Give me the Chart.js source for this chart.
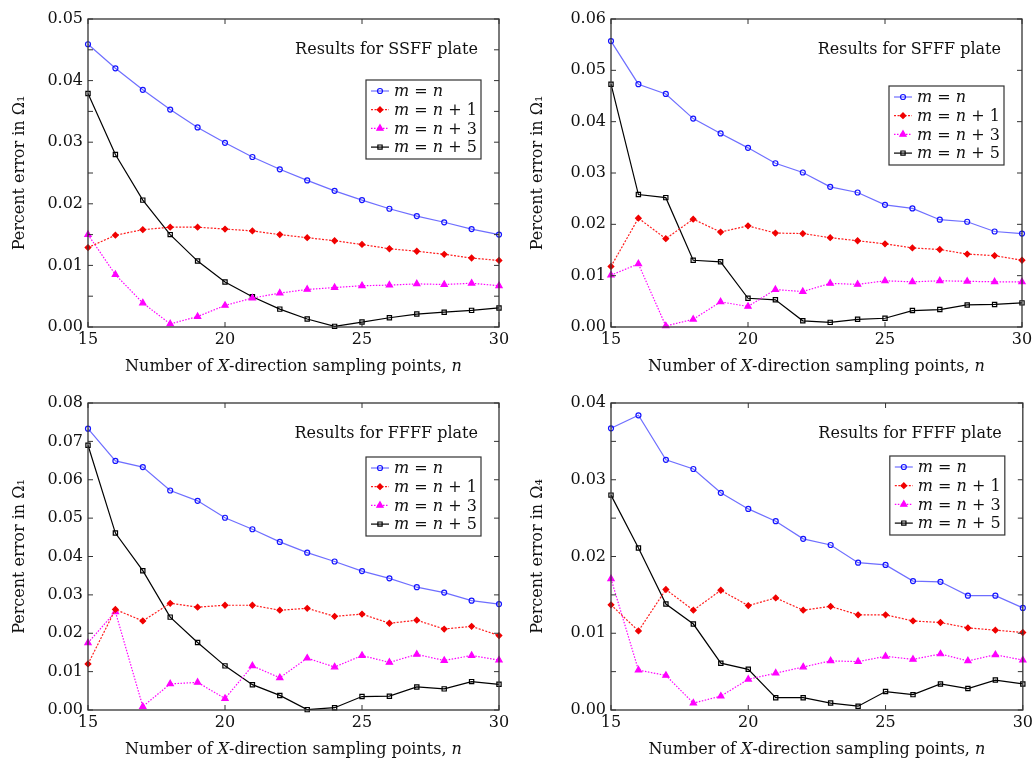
<!DOCTYPE html>
<html>
<head>
<meta charset="utf-8">
<script src="https://cdn.jsdelivr.net/npm/chart.js@4.4.1/dist/chart.umd.min.js"></script>
<style>
  body { margin: 0; background: #fff; }
  #wrap { position: relative; width: 1036px; height: 762px; }
  canvas { position: absolute; }
</style>
</head>
<body>
<div id="wrap">
  <canvas id="c1" width="518" height="381" style="left:0;top:0"></canvas>
  <canvas id="c2" width="518" height="381" style="left:518px;top:0"></canvas>
  <canvas id="c3" width="518" height="381" style="left:0;top:381px"></canvas>
  <canvas id="c4" width="518" height="381" style="left:518px;top:381px"></canvas>
</div>
<script>
const nValues = [15, 16, 17, 18, 19, 20, 21, 22, 23, 24, 25, 26, 27, 28, 29, 30];
const seriesNames = ['m = n', 'm = n + 1', 'm = n + 3', 'm = n + 5'];

// SSFF plate, error in Omega_1
const ssffN  = [0.0459, 0.0420, 0.0385, 0.0353, 0.0324, 0.0299, 0.0276, 0.0256, 0.0238, 0.0221, 0.0206, 0.0192, 0.0180, 0.0170, 0.0159, 0.0150];
const ssffN1 = [0.0129, 0.0149, 0.0158, 0.0162, 0.0162, 0.0159, 0.0156, 0.0150, 0.0145, 0.0140, 0.0134, 0.0127, 0.0123, 0.0118, 0.0112, 0.0108];
const ssffN3 = [0.0150, 0.0085, 0.0039, 0.0005, 0.0017, 0.0035, 0.0047, 0.0055, 0.0061, 0.0064, 0.0067, 0.0068, 0.0070, 0.0069, 0.0071, 0.0067];
const ssffN5 = [0.0379, 0.0280, 0.0206, 0.0150, 0.0107, 0.0073, 0.0049, 0.0029, 0.0013, 0.0001, 0.0008, 0.0015, 0.0021, 0.0024, 0.0027, 0.0031];

// SFFF plate, error in Omega_1
const sfffN  = [0.0557, 0.0473, 0.0454, 0.0406, 0.0377, 0.0349, 0.0319, 0.0301, 0.0273, 0.0262, 0.0238, 0.0231, 0.0209, 0.0205, 0.0186, 0.0182];
const sfffN1 = [0.0118, 0.0212, 0.0172, 0.0210, 0.0185, 0.0197, 0.0183, 0.0182, 0.0174, 0.0168, 0.0162, 0.0154, 0.0151, 0.0142, 0.0139, 0.0130];
const sfffN3 = [0.0101, 0.0123, 0.0002, 0.0015, 0.0049, 0.0040, 0.0073, 0.0069, 0.0085, 0.0083, 0.0090, 0.0088, 0.0090, 0.0089, 0.0088, 0.0088];
const sfffN5 = [0.0473, 0.0258, 0.0252, 0.0130, 0.0127, 0.0056, 0.0053, 0.0012, 0.0009, 0.0015, 0.0017, 0.0032, 0.0034, 0.0043, 0.0044, 0.0047];

// FFFF plate, error in Omega_1
const ffff1N  = [0.0733, 0.0649, 0.0633, 0.0572, 0.0545, 0.0501, 0.0471, 0.0438, 0.0410, 0.0387, 0.0362, 0.0343, 0.0320, 0.0306, 0.0285, 0.0276];
const ffff1N1 = [0.0120, 0.0262, 0.0232, 0.0278, 0.0268, 0.0273, 0.0273, 0.0260, 0.0265, 0.0244, 0.0250, 0.0226, 0.0234, 0.0211, 0.0218, 0.0194];
const ffff1N3 = [0.0175, 0.0256, 0.0009, 0.0068, 0.0072, 0.0030, 0.0115, 0.0084, 0.0135, 0.0112, 0.0142, 0.0124, 0.0145, 0.0129, 0.0142, 0.0130];
const ffff1N5 = [0.0690, 0.0461, 0.0363, 0.0242, 0.0176, 0.0115, 0.0066, 0.0038, 0.0001, 0.0006, 0.0035, 0.0036, 0.0060, 0.0055, 0.0074, 0.0067];

// FFFF plate, error in Omega_4
const ffff4N  = [0.0367, 0.0384, 0.0326, 0.0314, 0.0283, 0.0262, 0.0246, 0.0223, 0.0215, 0.0192, 0.0189, 0.0168, 0.0167, 0.0149, 0.0149, 0.0133];
const ffff4N1 = [0.0137, 0.0103, 0.0157, 0.0130, 0.0156, 0.0136, 0.0146, 0.0130, 0.0135, 0.0124, 0.0124, 0.0116, 0.0114, 0.0107, 0.0104, 0.0101];
const ffff4N3 = [0.0171, 0.0052, 0.0045, 0.0009, 0.0018, 0.0040, 0.0048, 0.0056, 0.0064, 0.0063, 0.0070, 0.0066, 0.0073, 0.0064, 0.0072, 0.0065];
const ffff4N5 = [0.0280, 0.0211, 0.0138, 0.0112, 0.0061, 0.0053, 0.0016, 0.0016, 0.0009, 0.0005, 0.0024, 0.0020, 0.0034, 0.0028, 0.0039, 0.0034];

// x title pieces: [text, italic]
const xTitleParts = [['Number of ', false], ['X', true], ['-direction sampling points, ', false], ['n', true]];
const serif = 'DejaVu Serif';

// line/marker look of the four series
const seriesStyle = [
  { line: 'rgb(110,110,255)', point: 'rgb(20,20,255)', fill: 'rgba(255,255,255,0)', shape: 'circle', r: 2.5, dash: [] },
  { line: 'rgb(255,30,30)', point: 'rgb(240,0,0)', fill: 'rgb(240,0,0)', shape: 'rectRot', r: 2.8, dash: [2, 1.5] },
  { line: 'rgb(255,0,255)', point: 'rgb(255,0,255)', fill: 'rgb(255,0,255)', shape: 'triangle', r: 3.6, dash: [1.5, 1.5] },
  { line: 'rgb(0,0,0)', point: 'rgb(0,0,0)', fill: 'rgba(255,255,255,0)', shape: 'rect', r: 3, dash: [] }
];

function fontFor(italic) {
  return (italic ? 'italic ' : '') + '16px "' + serif + '"';
}

function drawMath(ctx, str, x, y) {
  // letters italic, the rest upright, like the TeX legend
  for (const ch of str) {
    ctx.font = fontFor(/[a-z]/i.test(ch));
    ctx.fillText(ch, x, y);
    x += ctx.measureText(ch).width;
  }
}

const framePlugin = {
  id: 'frame',
  afterDraw(chart) {
    const ctx = chart.ctx;
    const a = chart.chartArea;
    const o = chart.options.plugins.frame;
    ctx.save();
    ctx.strokeStyle = '#333';
    ctx.lineWidth = 1.3;
    ctx.strokeRect(a.left, a.top, a.right - a.left, a.bottom - a.top);
    // inward tick marks on all four sides
    ctx.lineWidth = 1;
    chart.scales.y.ticks.forEach(t => {
      const p = chart.scales.y.getPixelForValue(t.value);
      ctx.beginPath();
      ctx.moveTo(a.left, p); ctx.lineTo(a.left + 5, p);
      ctx.moveTo(a.right, p); ctx.lineTo(a.right - 5, p);
      ctx.stroke();
    });
    chart.scales.x.ticks.forEach(t => {
      const p = chart.scales.x.getPixelForValue(t.value);
      ctx.beginPath();
      ctx.moveTo(p, a.top); ctx.lineTo(p, a.top + 5);
      ctx.moveTo(p, a.bottom); ctx.lineTo(p, a.bottom - 5);
      ctx.stroke();
    });
    ctx.fillStyle = '#111';
    ctx.textBaseline = 'middle';
    // x axis title with italic X and n
    let total = 0;
    xTitleParts.forEach(([txt, it]) => { ctx.font = fontFor(it); total += ctx.measureText(txt).width; });
    let tx = (a.left + a.right) / 2 - total / 2;
    ctx.textAlign = 'left';
    xTitleParts.forEach(([txt, it]) => {
      ctx.font = fontFor(it);
      ctx.fillText(txt, tx, a.bottom + 40);
      tx += ctx.measureText(txt).width;
    });
    // panel caption
    ctx.font = fontFor(false);
    ctx.textAlign = 'right';
    ctx.fillText(o.caption, a.right - 21, a.top + 31);
    // legend box
    const bw = 115, bh = 79;
    const bx = a.right - 18 - bw, by = a.top + o.legendTop;
    ctx.fillStyle = '#fff';
    ctx.fillRect(bx, by, bw, bh);
    ctx.strokeStyle = '#333';
    ctx.lineWidth = 1.2;
    ctx.strokeRect(bx, by, bw, bh);
    ctx.textAlign = 'left';
    chart.data.datasets.forEach((ds, i) => {
      const s = seriesStyle[i];
      const ly = by + 11 + i * 18.7;
      ctx.strokeStyle = s.line;
      ctx.lineWidth = 1.2;
      ctx.setLineDash(s.dash);
      ctx.beginPath();
      ctx.moveTo(bx + 5, ly); ctx.lineTo(bx + 23, ly);
      ctx.stroke();
      ctx.setLineDash([]);
      ctx.strokeStyle = s.point;
      ctx.fillStyle = s.fill;
      Chart.helpers.drawPoint(ctx, { pointStyle: s.shape, radius: s.r, borderWidth: 1.2, rotation: 0 }, bx + 14, ly);
      ctx.fillStyle = '#111';
      drawMath(ctx, ds.label, bx + 28, ly + 1);
    });
    ctx.restore();
  }
};

function makePanel(id, caption, yLabel, yMax, yStep, series, yWidth, padTop, padRight, xHeight, legendTop) {
  new Chart(document.getElementById(id), {
    type: 'line',
    data: {
      datasets: series.map((vals, i) => ({
        label: seriesNames[i],
        data: nValues.map((n, k) => ({ x: n, y: vals[k] })),
        borderColor: seriesStyle[i].line,
        borderWidth: 1.2,
        borderDash: seriesStyle[i].dash,
        pointStyle: seriesStyle[i].shape,
        pointRadius: seriesStyle[i].r,
        pointBorderWidth: 1.2,
        pointBorderColor: seriesStyle[i].point,
        pointBackgroundColor: seriesStyle[i].fill,
        tension: 0,
        clip: false
      }))
    },
    options: {
      responsive: false,
      animation: false,
      layout: { padding: { top: padTop, right: padRight, left: 0, bottom: 0 } },
      plugins: {
        legend: { display: false },
        tooltip: { enabled: false },
        frame: { caption: caption, legendTop: legendTop }
      },
      scales: {
        x: {
          type: 'linear',
          min: 15,
          max: 30,
          grid: { display: false, drawTicks: false },
          border: { display: false },
          ticks: { stepSize: 5, color: '#111', padding: 3, font: { family: serif, size: 16 } },
          afterFit: s => { s.height = xHeight; }
        },
        y: {
          type: 'linear',
          min: 0,
          max: yMax,
          grid: { display: false, drawTicks: false },
          border: { display: false },
          ticks: {
            stepSize: yStep,
            color: '#111',
            padding: 5,
            font: { family: serif, size: 16 },
            callback: v => Math.abs(v * 100 - Math.round(v * 100)) < 1e-6 ? v.toFixed(2) : ''
          },
          title: { display: true, text: yLabel, color: '#111', padding: { top: 10, bottom: 0 }, font: { family: serif, size: 16 } },
          afterFit: s => { s.width = yWidth; }
        }
      }
    },
    plugins: [framePlugin]
  });
}

makePanel('c1', 'Results for SSFF plate', 'Percent error in Ω\u2081', 0.05, 0.005,
  [ssffN, ssffN1, ssffN3, ssffN5], 88, 19, 19, 54, 61);
makePanel('c2', 'Results for SFFF plate', 'Percent error in Ω\u2081', 0.06, 0.01,
  [sfffN, sfffN1, sfffN3, sfffN5], 93, 19, 14, 54, 67);
makePanel('c3', 'Results for FFFF plate', 'Percent error in Ω\u2081', 0.08, 0.01,
  [ffff1N, ffff1N1, ffff1N3, ffff1N5], 88, 22, 19, 52, 54);
makePanel('c4', 'Results for FFFF plate', 'Percent error in Ω\u2084', 0.04, 0.005,
  [ffff4N, ffff4N1, ffff4N3, ffff4N5], 93, 22, 13, 52, 53);
</script>
</body>
</html>
